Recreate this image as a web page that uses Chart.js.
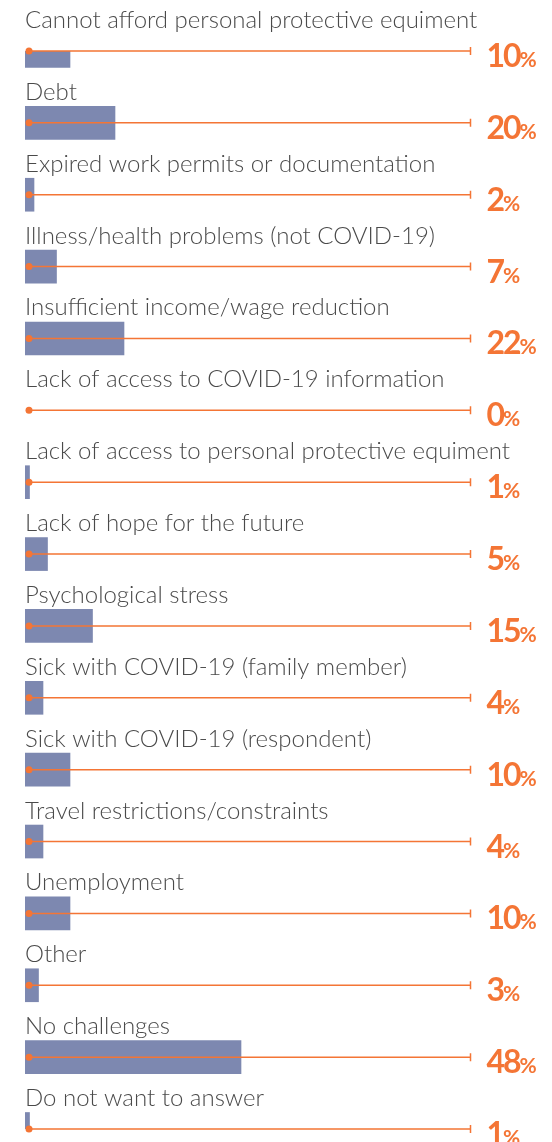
<!DOCTYPE html>
<html>
<head>
<meta charset="utf-8">
<script src="https://cdn.jsdelivr.net/npm/chart.js@4/dist/chart.umd.min.js"></script>
<style>
  html, body { margin: 0; padding: 0; background: #fff; overflow: hidden; }
  #wrap { position: relative; width: 552px; height: 1142px; }
</style>
</head>
<body>
<div id="wrap"><canvas id="chart"></canvas></div>
<script>
const categories = [
  "Cannot afford personal protective equiment",
  "Debt",
  "Expired work permits or documentation",
  "Illness/health problems (not COVID-19)",
  "Insufficient income/wage reduction",
  "Lack of access to COVID-19 information",
  "Lack of access to personal protective equiment",
  "Lack of hope for the future",
  "Psychological stress",
  "Sick with COVID-19 (family member)",
  "Sick with COVID-19 (respondent)",
  "Travel restrictions/constraints",
  "Unemployment",
  "Other",
  "No challenges",
  "Do not want to answer"
];
const values = [10, 20, 2, 7, 22, 0, 1, 5, 15, 4, 10, 4, 10, 3, 48, 1];
const trackEnd = 99;

const barColor = "#7d88b0";
const orange = "#f47535";
const textColor = "#4a4a4a";

// draws the category text above each bar, the orange track and the % label
const rowDecor = {
  id: "rowDecor",
  afterDatasetsDraw(chart) {
    const ctx = chart.ctx;
    const x = chart.scales.x;
    const y = chart.scales.y;
    const x0 = x.getPixelForValue(0);
    const x1 = x.getPixelForValue(trackEnd);
    ctx.save();
    categories.forEach((cat, i) => {
      const cy = y.getPixelForValue(i);

      ctx.fillStyle = textColor;
      ctx.font = "300 24px Lato";
      ctx.textAlign = "left";
      ctx.textBaseline = "alphabetic";
      ctx.fillText(cat, x0, cy - 23);

      ctx.strokeStyle = orange;
      ctx.lineWidth = 1.5;
      ctx.beginPath();
      ctx.moveTo(x0 + 4, cy);
      ctx.lineTo(x1, cy);
      ctx.moveTo(x1, cy - 4);
      ctx.lineTo(x1, cy + 4);
      ctx.stroke();

      ctx.fillStyle = orange;
      ctx.beginPath();
      ctx.arc(x0 + 4, cy, 3.5, 0, Math.PI * 2);
      ctx.fill();

      const num = String(values[i]);
      ctx.font = "bold 32px Lato";
      ctx.letterSpacing = "-2px";
      ctx.fillText(num, x1 + 16, cy + 16);
      const w = ctx.measureText(num).width;
      ctx.font = "bold 21px Lato";
      ctx.letterSpacing = "-1px";
      ctx.fillText("%", x1 + 16 + w, cy + 16);
      ctx.letterSpacing = "0px";
    });
    ctx.restore();
  }
};

new Chart(document.getElementById("chart"), {
  type: "bar",
  data: {
    labels: categories,
    datasets: [
      {
        data: values,
        backgroundColor: (c) => (c.raw > 0 ? barColor : "rgba(0,0,0,0)"),
        barThickness: 33,
        borderWidth: 0
      }
    ]
  },
  options: {
    indexAxis: "y",
    responsive: true,
    maintainAspectRatio: false,
    animation: false,
    layout: { padding: { left: 25, right: 77, top: 51, bottom: 13 } },
    scales: {
      x: { min: 0, max: 100, display: false },
      y: { display: false, offset: false }
    },
    plugins: {
      legend: { display: false },
      tooltip: { enabled: false }
    }
  },
  plugins: [rowDecor]
});
</script>
</body>
</html>
